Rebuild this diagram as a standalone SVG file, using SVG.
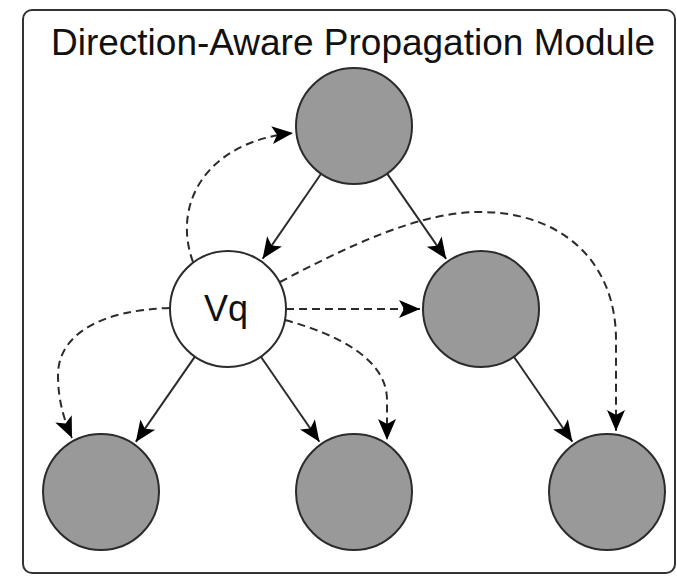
<svg xmlns="http://www.w3.org/2000/svg" width="677" height="577" viewBox="0 0 677 577">
  <style>
    .frame { fill: #ffffff; stroke: #333333; stroke-width: 2; }
    .title { font-family: "Liberation Sans", Arial, sans-serif; font-size: 37px; fill: #111111; text-anchor: middle; }
    .label { font-family: "Liberation Sans", Arial, sans-serif; font-size: 36px; fill: #111111; text-anchor: middle; }
    .node { fill: #999999; stroke: #2b2b2b; stroke-width: 2; }
    .query { fill: #ffffff; stroke: #2b2b2b; stroke-width: 2; }
    .edge { fill: none; stroke: #2b2b2b; stroke-width: 2; marker-end: url(#arrow); }
    .dash { stroke-dasharray: 8 5; }
  </style>
  <defs>
    <marker id="arrow" markerUnits="userSpaceOnUse" markerWidth="22" markerHeight="18" viewBox="0 0 22 18" refX="21" refY="9" orient="auto" overflow="visible">
      <path d="M0,0 L21,9 L0,18 L5,9 Z" fill="#000000" stroke="none"/>
    </marker>
  </defs>

  <rect class="frame" x="23" y="10" width="652" height="563" rx="9" ry="9"/>
  <text class="title" x="353" y="55">Direction-Aware Propagation Module</text>

  <g id="connectors">
    <!-- solid -->
    <line class="edge" x1="321.1" y1="173.8" x2="262.6" y2="258.7"/>
    <line class="edge" x1="387.1" y1="173.6" x2="446.2" y2="258.9"/>
    <line class="edge" x1="194.9" y1="356.6" x2="135.8" y2="441.9"/>
    <line class="edge" x1="260.9" y1="356.8" x2="319.4" y2="441.7"/>
    <line class="edge" x1="513.9" y1="356.8" x2="572.4" y2="441.7"/>
    <!-- dashed -->
    <path class="edge dash" d="M193,262 C172,205 205,142 293,133"/>
    <path class="edge dash" d="M280,282 C350,245 420,212 480,212 C560,212 616,260 616,340 L616,431"/>
    <path class="edge dash" d="M286,309 L420,309"/>
    <path class="edge dash" d="M285,320 C340,335 387,360 387,400 L387,440"/>
    <path class="edge dash" d="M170,308 C100,310 58,335 58,375 C58,400 64,420 72,438"/>
  </g>

  <g id="node-top"><circle class="node" cx="354" cy="126" r="58"/></g>
  <g id="node-vq">
    <circle class="query" cx="228" cy="309" r="58"/>
    <text class="label" x="226" y="321">Vq</text>
  </g>
  <g id="node-right"><circle class="node" cx="481" cy="309" r="58"/></g>
  <g id="node-bottom-left"><circle class="node" cx="101" cy="492" r="58"/></g>
  <g id="node-bottom-middle"><circle class="node" cx="354" cy="492" r="58"/></g>
  <g id="node-bottom-right"><circle class="node" cx="607" cy="492" r="58"/></g>
</svg>
